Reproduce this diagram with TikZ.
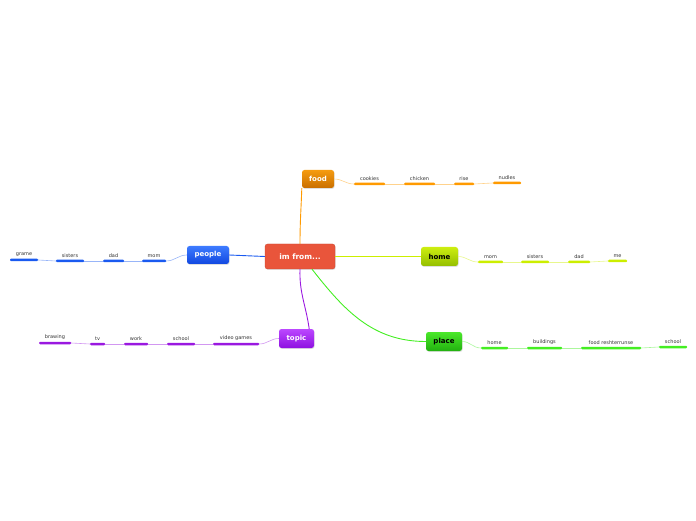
\documentclass[tikz,border=0pt]{standalone}
\usepackage{fontspec}
\setmainfont{DejaVu Sans}
\usepackage{tikz}
\usetikzlibrary{shadows}

\definecolor{mainred}{HTML}{E9553B}
\definecolor{foodtop}{HTML}{F59B10}
\definecolor{foodbot}{HTML}{C96F00}
\definecolor{foodbar}{HTML}{FF9A00}
\definecolor{hometop}{HTML}{CDEE10}
\definecolor{homebot}{HTML}{94BE00}
\definecolor{homebar}{HTML}{CCEE00}
\definecolor{peopletop}{HTML}{3D7BFF}
\definecolor{peoplebot}{HTML}{1248E0}
\definecolor{peoplebar}{HTML}{1A5AF0}
\definecolor{topictop}{HTML}{BB48FF}
\definecolor{topicbot}{HTML}{8E10E0}
\definecolor{topicbar}{HTML}{9A18E0}
\definecolor{placetop}{HTML}{4AE82A}
\definecolor{placebot}{HTML}{22B010}
\definecolor{placebar}{HTML}{44EE22}

\begin{document}
\begin{tikzpicture}[x=1pt, y=1pt,
  branchbox/.style={rounded corners=2.5pt, inner sep=0pt, font=\bfseries\fontsize{7}{8}\selectfont,
    text=white, drop shadow={opacity=0.25, shadow xshift=0.6pt, shadow yshift=-0.9pt}},
  leafbar/.style={fill=#1, rounded corners=1pt, minimum height=2.5pt, inner sep=0pt},
  leaflbl/.style={font=\fontsize{5}{6}\selectfont, text=black!80, inner sep=0pt},
  branchline/.style={draw=#1, line width=0.9pt},
  twig/.style={draw=#1!45, line width=0.6pt},
  label distance=2pt]
  \useasboundingbox (0,0) rectangle (696,520);

  % centre and main topics
  \node[branchbox, fill=mainred, draw=mainred!85!black, line width=0.3pt, minimum width=70pt, minimum height=25pt,
    font=\bfseries\fontsize{7.5}{9}\selectfont] (imfrom) at (300,263.5) {im from...};
  \node[branchbox, top color=foodtop, bottom color=foodbot, minimum width=32pt, minimum height=18pt] (food) at (318,341) {food};
  \node[branchbox, top color=hometop, bottom color=homebot, text=black, minimum width=37pt, minimum height=19pt] (home) at (439.5,263.5) {home};
  \node[branchbox, top color=peopletop, bottom color=peoplebot, minimum width=42pt, minimum height=18pt] (people) at (208,265) {people};
  \node[branchbox, top color=topictop, bottom color=topicbot, minimum width=35pt, minimum height=19pt] (topic) at (296.5,181.5) {topic};
  \node[branchbox, top color=placetop, bottom color=placebot, text=black, minimum width=36pt, minimum height=19pt] (place) at (444,178.5) {place};

  \draw[branchline=foodbar] (imfrom.north) to[out=90, in=-92] (food.south west);
  \draw[branchline=homebar] (imfrom.east) -- (home.west);
  \draw[branchline=peoplebar] (imfrom.west) -- (people.east);
  \draw[branchline=topicbar] (imfrom.south) to[out=-92, in=98] ([xshift=-5pt]topic.north east);
  \draw[branchline=placebar] ([xshift=12pt]imfrom.south) to[out=-52, in=180] (place.west);

  % food
  \node[leafbar=foodbar, minimum width=31pt, label={[leaflbl]above:cookies}] (cookies) at (369.5,336) {};
  \node[leafbar=foodbar, minimum width=31pt, label={[leaflbl]above:chicken}] (chicken) at (419.5,336) {};
  \node[leafbar=foodbar, minimum width=20pt, label={[leaflbl]above:rise}] (rise) at (464,336) {};
  \node[leafbar=foodbar, minimum width=28pt, label={[leaflbl]above:nudles}] (nudles) at (507,337) {};
  \draw[twig=foodbar] (food.east) to[out=0, in=180] (cookies.west);
  \draw[twig=foodbar] (cookies.east) -- (chicken.west);
  \draw[twig=foodbar] (chicken.east) -- (rise.west);
  \draw[twig=foodbar] (rise.east) -- (nudles.west);

  % home
  \node[leafbar=homebar, minimum width=25pt, label={[leaflbl]above:mom}] (hmom) at (490.5,258) {};
  \node[leafbar=homebar, minimum width=28pt, label={[leaflbl]above:sisters}] (hsisters) at (535,258) {};
  \node[leafbar=homebar, minimum width=22pt, label={[leaflbl]above:dad}] (hdad) at (579,258) {};
  \node[leafbar=homebar, minimum width=19pt, label={[leaflbl]above:me}] (hme) at (617.5,259) {};
  \draw[twig=homebar] (home.east) to[out=0, in=180] (hmom.west);
  \draw[twig=homebar] (hmom.east) -- (hsisters.west);
  \draw[twig=homebar] (hsisters.east) -- (hdad.west);
  \draw[twig=homebar] (hdad.east) -- (hme.west);

  % people
  \node[leafbar=peoplebar, minimum width=24pt, label={[leaflbl]above:mom}] (pmom) at (154,259) {};
  \node[leafbar=peoplebar, minimum width=21pt, label={[leaflbl]above:dad}] (pdad) at (113.5,259) {};
  \node[leafbar=peoplebar, minimum width=28pt, label={[leaflbl]above:sisters}] (psisters) at (70,259) {};
  \node[leafbar=peoplebar, minimum width=28pt, label={[leaflbl]above:grame}] (pgrame) at (24,260) {};
  \draw[twig=peoplebar] (people.west) to[out=180, in=0] (pmom.east);
  \draw[twig=peoplebar] (pmom.west) -- (pdad.east);
  \draw[twig=peoplebar] (pdad.west) -- (psisters.east);
  \draw[twig=peoplebar] (psisters.west) -- (pgrame.east);

  % topic
  \node[leafbar=topicbar, minimum width=46pt, label={[leaflbl]above:video games}] (videogames) at (236,176) {};
  \node[leafbar=topicbar, minimum width=28pt, label={[leaflbl]above:school}] (tschool) at (181,176) {};
  \node[leafbar=topicbar, minimum width=24pt, label={[leaflbl]above:work}] (work) at (136,176) {};
  \node[leafbar=topicbar, minimum width=15pt, label={[leaflbl]above:tv}] (tv) at (97.5,176) {};
  \node[leafbar=topicbar, minimum width=32pt, label={[leaflbl]above:brawing}] (brawing) at (55,177) {};
  \draw[twig=topicbar] (topic.west) to[out=180, in=0] (videogames.east);
  \draw[twig=topicbar] (videogames.west) -- (tschool.east);
  \draw[twig=topicbar] (tschool.west) -- (work.east);
  \draw[twig=topicbar] (work.west) -- (tv.east);
  \draw[twig=topicbar] (tv.west) -- (brawing.east);

  % place
  \node[leafbar=placebar, minimum width=27pt, label={[leaflbl]above:home}] (plhome) at (494.5,172) {};
  \node[leafbar=placebar, minimum width=35pt, label={[leaflbl]above:buildings}] (buildings) at (544.5,172) {};
  \node[leafbar=placebar, minimum width=60pt, label={[leaflbl]above:food reshterrunse}] (foodresh) at (611,172) {};
  \node[leafbar=placebar, minimum width=28pt, label={[leaflbl]above:school}] (plschool) at (673,173) {};
  \draw[twig=placebar] (place.east) to[out=0, in=180] (plhome.west);
  \draw[twig=placebar] (plhome.east) -- (buildings.west);
  \draw[twig=placebar] (buildings.east) -- (foodresh.west);
  \draw[twig=placebar] (foodresh.east) -- (plschool.west);
\end{tikzpicture}
\end{document}
